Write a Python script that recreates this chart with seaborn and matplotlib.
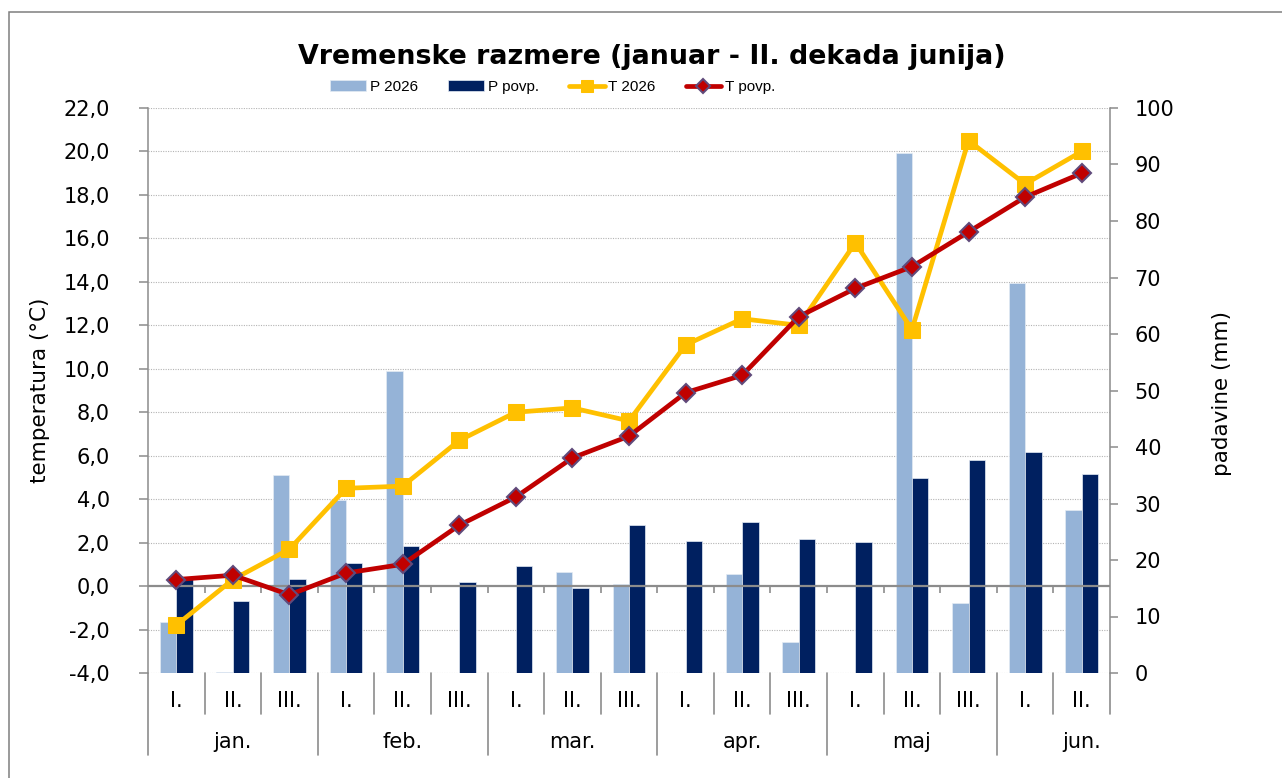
import numpy as np
import pandas as pd
import matplotlib
matplotlib.use("Agg")
import matplotlib.pyplot as plt
import seaborn as sns
from matplotlib.transforms import blended_transform_factory
from matplotlib.lines import Line2D
from matplotlib.patches import Rectangle
from matplotlib.ticker import FixedLocator, FuncFormatter

# ---------------- data ----------------
title = "Vremenske razmere (januar - II. dekada junija)"
months = ["jan.", "feb.", "mar.", "apr.", "maj", "jun."]
month_decades = [3, 3, 3, 3, 3, 2]
decade_names = ["I.", "II.", "III."]

series_bar = ["P 2026", "P povp."]
series_line = ["T 2026", "T povp."]

p_2026 = [9.0, 0.2, 35.0, 30.6, 53.4, 0.0, 0.0, 17.9, 15.7, 0.0, 17.5, 5.4, 0.0, 92.0, 12.4, 69.0, 28.8]
p_povp = [16.6, 12.7, 16.6, 19.5, 22.5, 16.1, 18.9, 15.0, 26.2, 23.4, 26.7, 23.7, 23.2, 34.5, 37.7, 39.1, 35.2]
t_2026 = [-1.8, 0.3, 1.7, 4.5, 4.6, 6.7, 8.0, 8.2, 7.6, 11.1, 12.3, 12.0, 15.8, 11.8, 20.5, 18.5, 20.0]
t_povp = [0.3, 0.5, -0.4, 0.6, 1.0, 2.8, 4.1, 5.9, 6.9, 8.9, 9.7, 12.4, 13.7, 14.7, 16.3, 17.9, 19.0]

temp_ticks = [-4, -2, 0, 2, 4, 6, 8, 10, 12, 14, 16, 18, 20, 22]
prec_ticks = [0, 10, 20, 30, 40, 50, 60, 70, 80, 90, 100]
temp_label = "temperatura (°C)"
prec_label = "padavine (mm)"

# ---------------- style ----------------
sns.set_theme(style="white")
plt.rcParams["font.family"] = ["DejaVu Sans"]
plt.rcParams["text.color"] = "black"
plt.rcParams["axes.labelcolor"] = "black"
plt.rcParams["xtick.color"] = "black"
plt.rcParams["ytick.color"] = "black"

bar_colors = ["#95B3D7", "#002060"]
c_t2026 = "#FFC000"
c_tpovp = "#C00000"
c_diam_edge = "#604A7B"
gray = "#8c8c8c"

decade_labels = [decade_names[j] for k in month_decades for j in range(k)]
n = len(decade_labels)
pos = np.arange(n)
month_starts = np.concatenate([[0], np.cumsum(month_decades)[:-1]])

df_bars = pd.DataFrame({
    "pos": np.tile(pos, 2),
    "serija": np.repeat(series_bar, n),
    "mm": p_2026 + p_povp,
})

W, H = 1282, 778
fig = plt.figure(figsize=(W / 100, H / 100), dpi=100)
fig.patch.set_facecolor("white")
L, R, T, B = 148, 1110, 108, 673
ax_p = fig.add_axes([L / W, 1 - B / H, (R - L) / W, (B - T) / H])
ax_t = ax_p.twinx()


def fy(px):
    return 1 - px / H


# bars (precipitation, right scale)
sns.barplot(data=df_bars, x="pos", y="mm", hue="serija", hue_order=series_bar,
            order=list(pos), palette=bar_colors, width=0.58, gap=0, dodge=True,
            saturation=1, errorbar=None, edgecolor="#e4ebf4", linewidth=0.5,
            ax=ax_p, zorder=2)

# lines (temperature, left scale)
sns.lineplot(x=pos, y=t_2026, ax=ax_t, color=c_t2026, lw=3.4, marker="s",
             markersize=12, markeredgecolor=c_t2026, label=series_line[0], zorder=4, sort=False)
sns.lineplot(x=pos, y=t_povp, ax=ax_t, color=c_tpovp, lw=3.4, marker="D",
             markersize=9.5, markeredgecolor=c_diam_edge, markeredgewidth=1.5,
             label=series_line[1], zorder=5, sort=False)

# limits
ax_t.set_ylim(temp_ticks[0], temp_ticks[-1])
ax_p.set_ylim(prec_ticks[0], prec_ticks[-1])
ax_p.set_xlim(-0.5, n - 0.5)

# axes sides
ax_p.yaxis.tick_right()
ax_p.yaxis.set_label_position("right")
ax_t.yaxis.tick_left()
ax_t.yaxis.set_label_position("left")

ax_t.yaxis.set_major_locator(FixedLocator(temp_ticks))
ax_t.yaxis.set_major_formatter(FuncFormatter(lambda v, p: f"{v:.1f}".replace(".", ",")))
ax_p.yaxis.set_major_locator(FixedLocator(prec_ticks))
ax_p.yaxis.set_major_formatter(FuncFormatter(lambda v, p: f"{v:.0f}"))

ax_t.tick_params(axis="y", direction="out", length=6.5, width=1.1, color=gray,
                 pad=21, labelsize=15, labelcolor="black", left=True, right=False)
ax_p.tick_params(axis="y", direction="out", length=5.8, width=1.1, color=gray,
                 pad=12, labelsize=15, labelcolor="black", right=True, left=False)
for a in (ax_p, ax_t):
    a.tick_params(axis="x", bottom=False, top=False, labelbottom=False)
    a.set_xlabel("")
    a.set_ylabel("")
    a.grid(False)

for s in ["top", "bottom", "left"]:
    ax_p.spines[s].set_visible(False)
ax_p.spines["right"].set_color(gray)
ax_p.spines["right"].set_linewidth(1.1)
for s in ["top", "bottom", "right"]:
    ax_t.spines[s].set_visible(False)
ax_t.spines["left"].set_color(gray)
ax_t.spines["left"].set_linewidth(1.1)

# dotted gridlines behind bars, placed by the temperature scale
grid_tr = blended_transform_factory(ax_p.transAxes, ax_t.transData)
for t in temp_ticks:
    if t == 0:
        continue
    ax_p.add_line(Line2D([0, 1], [t, t], transform=grid_tr, color="#b4b4b4",
                         lw=0.8, ls=(0, (1, 1.2)), zorder=0.5))

# category axis at 0 °C with downward ticks
ax_t.axhline(0, color=gray, lw=1.6, zorder=2.5)
ax_t.plot(pos[:-1] + 0.5, np.zeros(n - 1), ls="none", marker=3, ms=4.8, mew=1.2,
          color=gray, clip_on=False, zorder=2.5)

# category labels below the plot
xfig = blended_transform_factory(ax_p.transData, fig.transFigure)
for i, lab in enumerate(decade_labels):
    ax_p.text(i, fy(707), lab, transform=xfig, ha="center", va="baseline", fontsize=15)
for m, s in zip(months, month_starts):
    ax_p.text(s + 1, fy(748), m, transform=xfig, ha="center", va="baseline", fontsize=15)
for k in range(n + 1):
    bottom = 755 if k in month_starts else 714
    fig.add_artist(Line2D([k - 0.5, k - 0.5], [fy(673), fy(bottom)], transform=xfig,
                          color=gray, lw=1.2, clip_on=False))

# axis titles
fig.text(40 / W, fy(390), temp_label, rotation=90, ha="center", va="center", fontsize=15.5)
fig.text(1222 / W, fy(393), prec_label, rotation=90, ha="center", va="center", fontsize=15.5)

# title
fig.text(652 / W, fy(57), title, ha="center", va="center", fontsize=19.4, weight="bold")

# legend
hb, lb = ax_p.get_legend_handles_labels()
hl, ll = ax_t.get_legend_handles_labels()
for a in (ax_p, ax_t):
    if a.get_legend() is not None:
        a.get_legend().remove()
fig.legend(hb + hl, lb + ll, loc="center", bbox_to_anchor=(553 / W, fy(87)), ncol=4,
           frameon=False, prop={"family": ["Liberation Sans"], "size": 11},
           handlelength=2.35, handleheight=0.7, handletextpad=0.25, columnspacing=1.95,
           markerscale=0.75, borderpad=0.2)

# outer frame
fig.add_artist(Rectangle((9 / W, -0.05), 1.2, fy(12) + 0.05, transform=fig.transFigure,
                         fill=False, edgecolor="#7f7f7f", lw=1.1))

fig.savefig("out.png", dpi=100)
